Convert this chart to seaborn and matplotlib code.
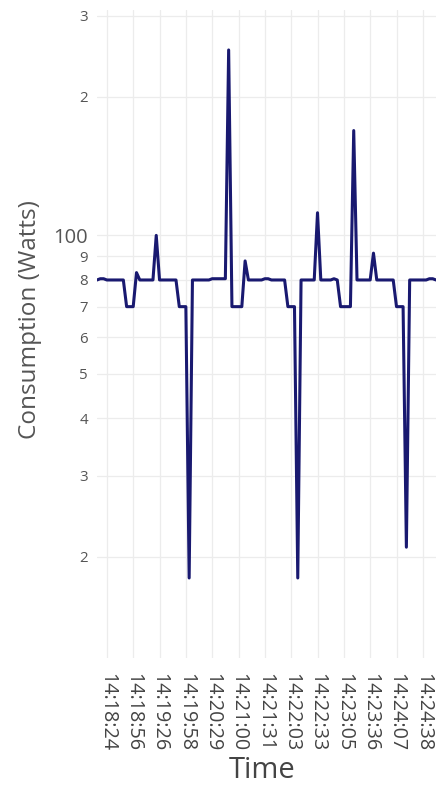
import matplotlib
matplotlib.use("Agg")
import matplotlib.pyplot as plt
import matplotlib.ticker as mticker
import seaborn as sns
import pandas as pd

# ---- data ----
consumption = [
    80, 80.5, 80.5, 80, 80, 80, 80, 80, 80, 70,
    70, 70, 83, 80, 80, 80, 80, 80, 100, 80,
    80, 80, 80, 80, 80, 70, 70, 70, 18, 80,
    80, 80, 80, 80, 80, 80.5, 80.5, 80.5, 80.5, 80.5,
    253, 70, 70, 70, 70, 88, 80, 80, 80, 80,
    80, 80.5, 80.5, 80, 80, 80, 80, 80, 70, 70,
    70, 18, 80, 80, 80, 80, 80, 112, 80, 80,
    80, 80, 80.5, 80, 70, 70, 70, 70, 169, 80,
    80, 80, 80, 80, 91.5, 80, 80, 80, 80, 80,
    80, 70, 70, 70, 21, 80, 80, 80, 80, 80,
    80, 80.5, 80.5, 80,
]
time_tick_labels = [
    "14:18:24", "14:18:56", "14:19:26", "14:19:58", "14:20:29",
    "14:21:00", "14:21:31", "14:22:03", "14:22:33", "14:23:05",
    "14:23:36", "14:24:07", "14:24:38",
]
y_tick_values = [20, 30, 40, 50, 60, 70, 80, 90, 100, 200, 300]
y_tick_labels = ["2", "3", "4", "5", "6", "7", "8", "9", "100", "2", "3"]

df = pd.DataFrame({"sample": range(len(consumption)), "watts": consumption})

# ---- styling ----
sns.set_theme(style="white")
plt.rcParams["font.family"] = ["Open Sans", "DejaVu Sans"]

W, H = 436, 785
fig = plt.figure(figsize=(W / 100, H / 100), dpi=100)
left, right, top, bottom = 97, 436, 10, 658
ax = fig.add_axes([left / W, 1 - bottom / H, (right - left) / W, (bottom - top) / H])

sns.lineplot(data=df, x="sample", y="watts", ax=ax, color="#191970",
             linewidth=2.2, zorder=3)

ax.set_yscale("log")
ax.set_ylim(12.06, 309)
ax.set_xlim(0, len(consumption) - 1)

ax.yaxis.set_major_locator(mticker.FixedLocator(y_tick_values))
ax.yaxis.set_minor_locator(mticker.NullLocator())
ax.set_yticklabels(y_tick_labels)
for lab in ax.get_yticklabels():
    if lab.get_text() == "100":
        lab.set_fontsize(14.5)
    else:
        lab.set_fontsize(10.8)
    lab.set_color("#555555")

tick_pos = list(range(3, len(consumption), 8))[: len(time_tick_labels)]
ax.set_xticks(tick_pos)
ax.set_xticklabels(time_tick_labels, rotation=-90, fontsize=14.2, color="#444444")

ax.tick_params(axis="both", length=0)
ax.tick_params(axis="y", pad=6.5)
ax.tick_params(axis="x", pad=10.5)

ax.grid(True, which="major", color="#ECECEC", linewidth=0.9)
ax.set_axisbelow(True)
for s in ax.spines.values():
    s.set_visible(False)

ax.set_ylabel("Consumption (Watts)", fontsize=17.5, color="#555555")
ax.set_xlabel("Time", fontsize=21, color="#444444")
ax.yaxis.label.set_va("center")
ax.xaxis.label.set_va("center")
ax.yaxis.set_label_coords((30 - left) / (right - left), (bottom - 320) / (bottom - top))
ax.xaxis.set_label_coords((262 - left) / (right - left), -(770 - bottom) / (bottom - top))

fig.savefig("out.png", dpi=100)
